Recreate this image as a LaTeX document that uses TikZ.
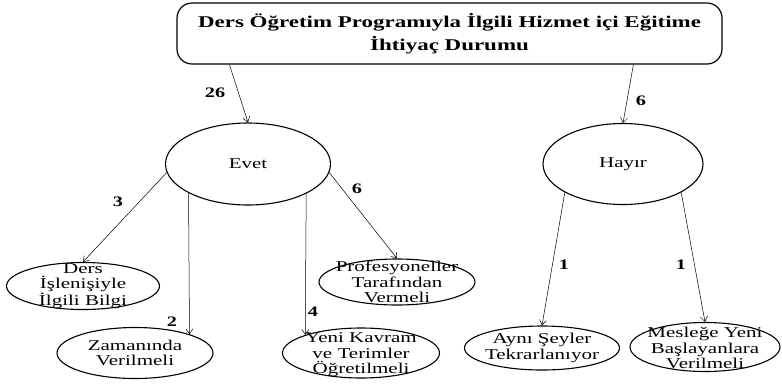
\documentclass[tikz,border=0pt]{standalone}
\usepackage{fontspec}
\setmainfont{Liberation Serif}[FakeStretch=1.4]
\usetikzlibrary{shapes.geometric,arrows.meta}
\begin{document}
\begin{tikzpicture}[x=1pt,y=-1pt,
  ell/.style={draw,ellipse,line width=1.1pt,inner sep=0pt},
  txt/.style={font=\fontsize{15}{15.5}\selectfont,align=center,inner sep=0pt},
  num/.style={font=\fontsize{14.5}{15}\selectfont\bfseries,inner sep=0pt},
  conn/.style={line width=0.5pt,-{Straight Barb[length=5pt,width=7pt]}}]
\useasboundingbox (0,0) rectangle (782,384);
\node[draw,rounded corners=15pt,line width=1.2pt,minimum width=545pt,minimum height=61pt,inner sep=0pt,align=center,font=\fontsize{16.4}{23}\selectfont\bfseries] (title) at (449.5,33.5) {Ders Öğretim Programıyla İlgili Hizmet içi Eğitime\\İhtiyaç Durumu};

\node[ell,minimum width=165pt,minimum height=82pt,txt] (evet) at (248,164) {Evet};
\node[ell,minimum width=160pt,minimum height=81pt,txt] (hayir) at (623,164) {Hayır};

\node[ell,minimum width=153pt,minimum height=47pt,label={[txt]center:{Ders\\İşlenişiyle\\İlgili Bilgi}}] (ders) at (83,286) {};
\node[ell,minimum width=156pt,minimum height=51pt,label={[txt]center:{Zamanında\\Verilmeli}}] (zam) at (135,353) {};
\node[ell,minimum width=157pt,minimum height=50pt,label={[txt,yshift=-2pt]center:{Yeni Kavram\\ve Terimler\\Öğretilmeli}}] (yeni) at (361,353) {};
\node[ell,minimum width=156pt,minimum height=46pt,label={[txt]center:{Profesyoneller\\Tarafından\\Vermeli}}] (prof) at (397,282) {};
\node[ell,minimum width=155pt,minimum height=44pt,label={[txt]center:{Aynı Şeyler\\Tekrarlanıyor}}] (ayni) at (542,348) {};
\node[ell,minimum width=150pt,minimum height=49pt,label={[txt,yshift=-1pt]center:{Mesleğe Yeni\\Başlayanlara\\Verilmeli}}] (meslek) at (705,347) {};

\draw[conn] ([xshift=53pt]title.south west) -- (evet.north);
\draw[conn] ([xshift=457pt]title.south west) -- (hayir.north);
\draw[conn] (evet.186) -- (ders.north);
\draw[conn] (evet.206) -- (zam.19);
\draw[conn] (evet.333) -- (yeni.162);
\draw[conn] (evet.354) -- (prof.north);
\draw[conn] (hayir.206) -- (ayni.north);
\draw[conn] (hayir.334) -- (meslek.north);

\node[num] (n26) at (215,93) {26};
\node[num] (n6a) at (641,101) {6};
\node[num] (n3) at (118,202) {3};
\node[num] (n6b) at (357,189) {6};
\node[num] (n2) at (172,322) {2};
\node[num] (n4) at (313,312) {4};
\node[num] (n1a) at (564,265) {1};
\node[num] (n1b) at (681,265) {1};
\end{tikzpicture}
\end{document}
